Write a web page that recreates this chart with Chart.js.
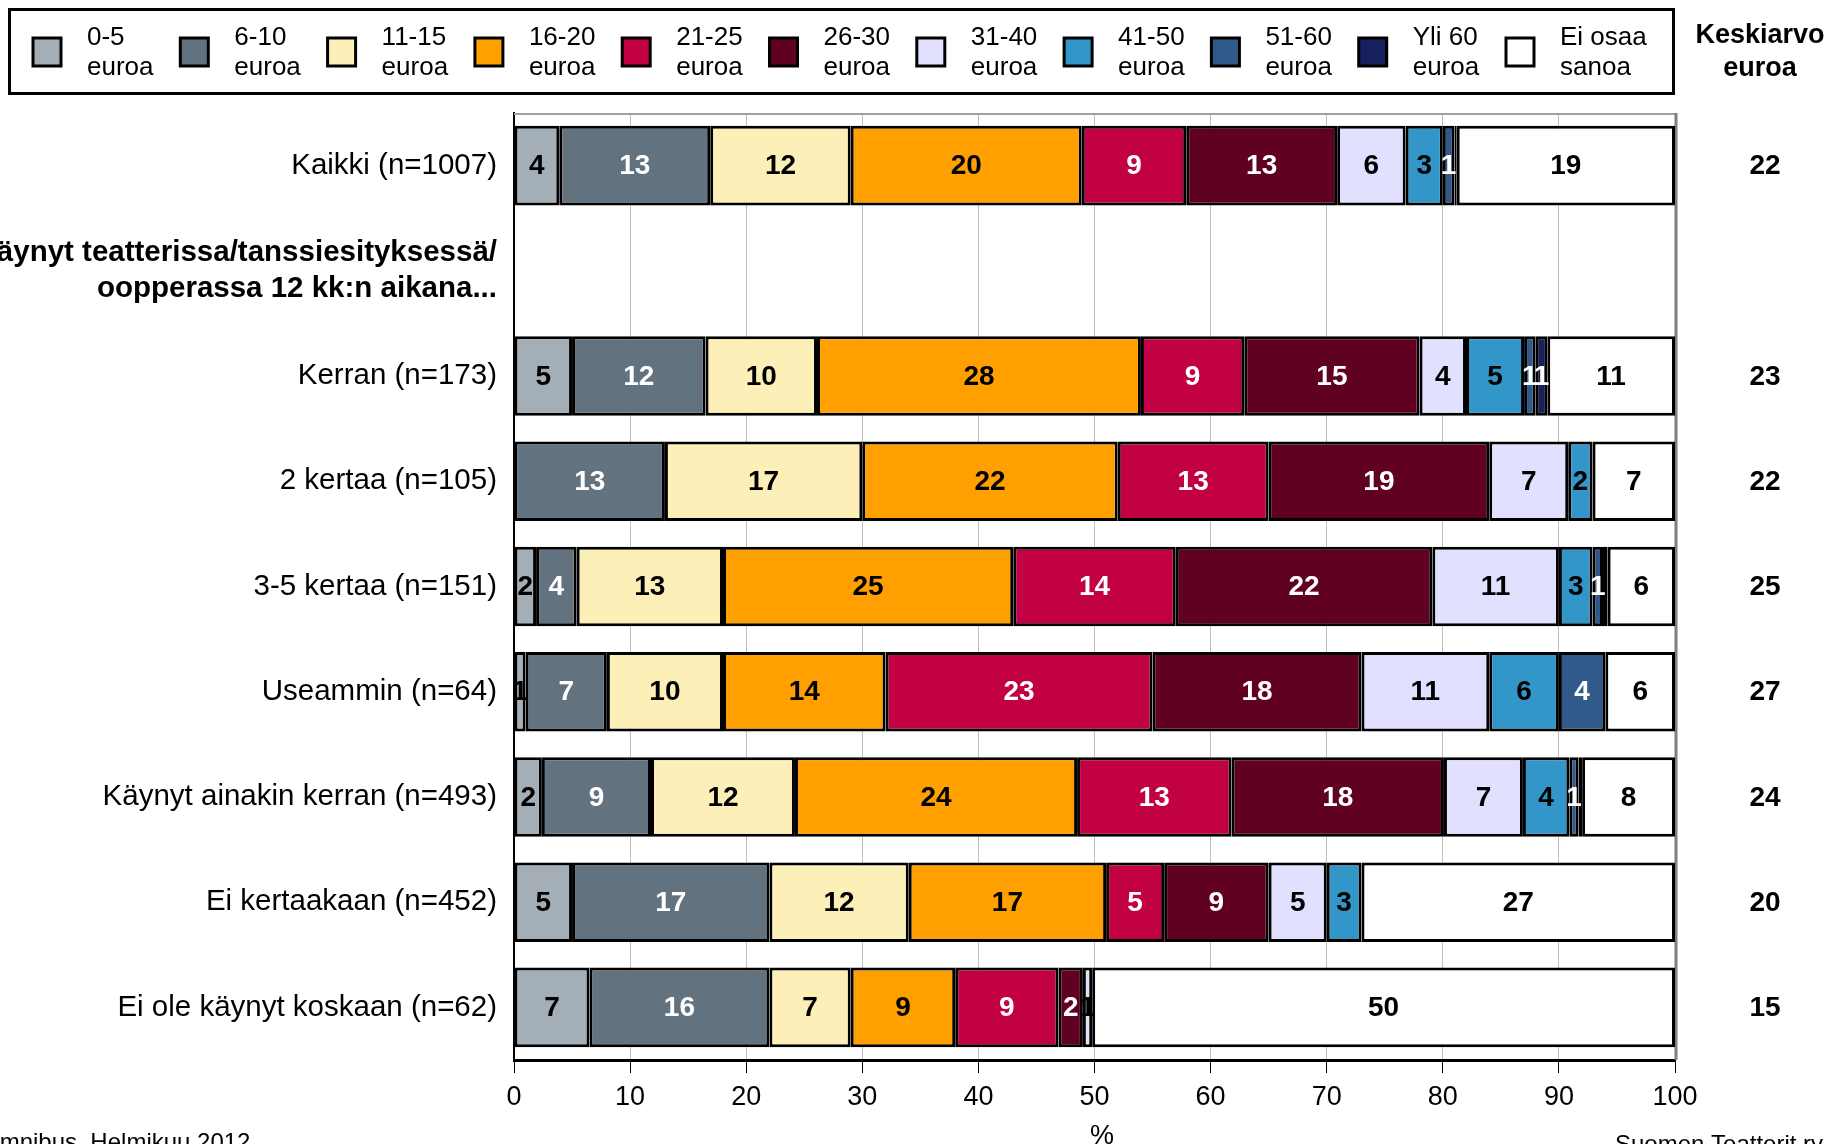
<!DOCTYPE html>
<html lang="fi">
<head>
<meta charset="utf-8">
<title>Lipun hinta</title>
<script src="https://cdn.jsdelivr.net/npm/chart.js@4.4.1/dist/chart.umd.min.js"></script>
<style>
  html, body { margin: 0; padding: 0; background: #fff; }
  #priceChart { display: block; }
</style>
</head>
<body>
<canvas id="priceChart" width="1835" height="1144"></canvas>
<script>
// Row labels (second row is a bold group heading with no bar)
const categories = [
  'Kaikki (n=1007)',
  ['Käynyt teatterissa/tanssiesityksessä/', 'oopperassa 12 kk:n aikana...'],
  'Kerran (n=173)',
  '2 kertaa (n=105)',
  '3-5 kertaa (n=151)',
  'Useammin (n=64)',
  'Käynyt ainakin kerran (n=493)',
  'Ei kertaakaan (n=452)',
  'Ei ole käynyt koskaan (n=62)'
];

// Legend names, two lines each
const seriesNames = [
  ['0-5', 'euroa'], ['6-10', 'euroa'], ['11-15', 'euroa'], ['16-20', 'euroa'],
  ['21-25', 'euroa'], ['26-30', 'euroa'], ['31-40', 'euroa'], ['41-50', 'euroa'],
  ['51-60', 'euroa'], ['Yli 60', 'euroa'], ['Ei osaa', 'sanoa']
];

// Shares (%) per row, same order as categories
const eur0_5   = [3.9, null, 5.0, 0,    1.9, 1.0, 2.4,  5.0,  6.5];
const eur6_10  = [13.0, null, 11.5, 13.0, 3.5, 7.0, 9.4, 17.0, 15.5];
const eur11_15 = [12.1, null, 9.6, 17.0, 12.6, 10.0, 12.4, 12.0, 7.0];
const eur16_20 = [19.9, null, 27.9, 22.0, 25.0, 14.0, 24.3, 17.0, 9.0];
const eur21_25 = [9.0, null, 8.9, 13.0, 14.0, 23.0, 13.3, 5.0, 8.9];
const eur26_30 = [13.0, null, 15.1, 19.0, 22.1, 18.0, 18.3, 9.0, 2.1];
const eur31_40 = [5.9, null, 4.0, 6.8, 10.9, 11.0, 6.8, 5.0, 0.8];
const eur41_50 = [3.2, null, 5.0, 2.1, 2.9, 6.0, 4.0, 3.0, 0];
const eur51_60 = [1.0, null, 1.0, 0,   0.9, 4.0, 0.8, 0,   0];
const yli60    = [0.2, null, 1.0, 0,   0.4, 0,   0.3, 0,   0];
const eiOsaa   = [18.8, null, 11.0, 7.1, 5.8, 6.0, 8.0, 27.0, 50.2];

// Average price column (euroa)
const averages = [22, null, 23, 22, 25, 27, 24, 20, 15];

const xTicks = [0, 10, 20, 30, 40, 50, 60, 70, 80, 90, 100];

const PriceChart = (function() {
  'use strict';

  const FONT = "'Liberation Sans', Arial, sans-serif";

  const COLORS = {
    fills: ['#a3aeb7', '#63727f', '#fdefb8', '#ffa000', '#c20044', '#600022',
            '#e2e0ff', '#3296c8', '#315a8b', '#16205e', '#ffffff'],
    // white text on the dark segments
    labels: ['#000', '#fff', '#000', '#000', '#fff', '#fff',
             '#000', '#000', '#fff', '#fff', '#000'],
    grid: '#c0c0c0',
    frameTop: '#a0a0a0',
    frameRight: '#7f7f7f'
  };

  const SERIES = [eur0_5, eur6_10, eur11_15, eur16_20, eur21_25, eur26_30,
                  eur31_40, eur41_50, eur51_60, yli60, eiOsaa];

  /**
   * Gray frame on top and right of the plot
   */
  const framePlugin = {
    id: 'frame',
    beforeDatasetsDraw(chart) {
      const { ctx, chartArea: a } = chart;
      ctx.save();
      ctx.strokeStyle = COLORS.frameTop;
      ctx.lineWidth = 2;
      ctx.beginPath();
      ctx.moveTo(a.left, a.top + 1);
      ctx.lineTo(a.right, a.top + 1);
      ctx.stroke();
      ctx.strokeStyle = COLORS.frameRight;
      ctx.lineWidth = 3;
      ctx.beginPath();
      ctx.moveTo(a.right + 1, a.top);
      ctx.lineTo(a.right + 1, a.bottom);
      ctx.stroke();
      ctx.restore();
    }
  };

  /**
   * Rounded value in the middle of every segment
   */
  const segmentLabels = {
    id: 'segmentLabels',
    afterDatasetsDraw(chart) {
      const ctx = chart.ctx;
      ctx.save();
      ctx.font = 'bold 28px ' + FONT;
      ctx.textAlign = 'center';
      ctx.textBaseline = 'middle';
      chart.data.datasets.forEach((ds, i) => {
        const meta = chart.getDatasetMeta(i);
        meta.data.forEach((bar, j) => {
          const v = ds.data[j];
          if (v == null || v < 0.5) return;
          const p = bar.getProps(['x', 'y', 'base'], true);
          ctx.fillStyle = COLORS.labels[i];
          ctx.fillText(String(Math.round(v)), (p.x + p.base) / 2, p.y + 1);
        });
      });
      ctx.restore();
    }
  };

  /**
   * Legend box, average column and footer texts
   */
  const extras = {
    id: 'extras',
    afterDraw(chart) {
      const { ctx, chartArea: a } = chart;
      const yScale = chart.scales.y;
      ctx.save();

      // legend box
      ctx.strokeStyle = '#000';
      ctx.lineWidth = 3;
      ctx.strokeRect(9.5, 9.5, 1664, 84);
      ctx.font = '26px ' + FONT;
      ctx.textAlign = 'left';
      ctx.textBaseline = 'alphabetic';
      seriesNames.forEach((lines, i) => {
        const sx = 33 + i * 147.3;
        ctx.fillStyle = COLORS.fills[i];
        ctx.fillRect(sx, 38, 28, 28);
        ctx.lineWidth = 3;
        ctx.strokeStyle = '#000';
        ctx.strokeRect(sx, 38, 28, 28);
        ctx.fillStyle = '#000';
        ctx.fillText(lines[0], sx + 54, 45);
        ctx.fillText(lines[1], sx + 54, 75);
      });

      // average column
      ctx.textAlign = 'center';
      ctx.font = 'bold 27px ' + FONT;
      ctx.fillText('Keskiarvo', 1760, 43);
      ctx.fillText('euroa', 1760, 76);
      ctx.font = 'bold 28px ' + FONT;
      ctx.textBaseline = 'middle';
      averages.forEach((v, j) => {
        if (v == null) return;
        ctx.fillText(String(v), 1765, yScale.getPixelForValue(j) + 1);
      });

      // axis title and footers
      ctx.font = '27px ' + FONT;
      ctx.fillText('%', a.left + 588, 1137);
      ctx.textBaseline = 'alphabetic';
      ctx.font = '24px ' + FONT;
      ctx.textAlign = 'left';
      ctx.fillText('Omnibus, Helmikuu 2012', -19, 1150);
      ctx.fillText('Suomen Teatterit ry', 1615, 1152);
      ctx.restore();
    }
  };

  function buildDatasets() {
    return SERIES.map((data, i) => ({
      label: seriesNames[i].join(' '),
      data: data,
      backgroundColor: COLORS.fills[i],
      borderColor: '#000',
      borderWidth: 3,
      borderSkipped: false,
      barPercentage: 0.756,
      categoryPercentage: 1
    }));
  }

  function init() {
    const ctx = document.getElementById('priceChart').getContext('2d');
    return new Chart(ctx, {
      type: 'bar',
      data: { labels: categories, datasets: buildDatasets() },
      options: {
        indexAxis: 'y',
        responsive: false,
        animation: false,
        layout: { padding: { top: 113, right: 160, left: 0, bottom: 0 } },
        plugins: {
          legend: { display: false },
          tooltip: { enabled: false }
        },
        scales: {
          x: {
            type: 'linear',
            stacked: true,
            min: 0,
            max: 100,
            afterBuildTicks: (s) => { s.ticks = xTicks.map(v => ({ value: v })); },
            afterFit: (s) => { s.height = 84; },
            grid: {
              color: COLORS.grid,
              lineWidth: 1,
              tickColor: '#000',
              tickLength: 13
            },
            border: { color: '#000', width: 3 },
            ticks: {
              color: '#000',
              padding: 8,
              maxRotation: 0,
              font: { family: FONT, size: 27 }
            }
          },
          y: {
            type: 'category',
            stacked: true,
            afterFit: (s) => { s.width = 514; },
            grid: { drawOnChartArea: false, drawTicks: false },
            border: { color: '#000', width: 2 },
            ticks: {
              color: '#000',
              padding: 17,
              autoSkip: false,
              font: (c) => c.index === 1
                ? { family: FONT, size: 29.5, weight: 'bold', lineHeight: 1.2 }
                : { family: FONT, size: 29.5 }
            }
          }
        }
      },
      plugins: [framePlugin, segmentLabels, extras]
    });
  }

  return { init };
})();

PriceChart.init();
</script>
</body>
</html>
